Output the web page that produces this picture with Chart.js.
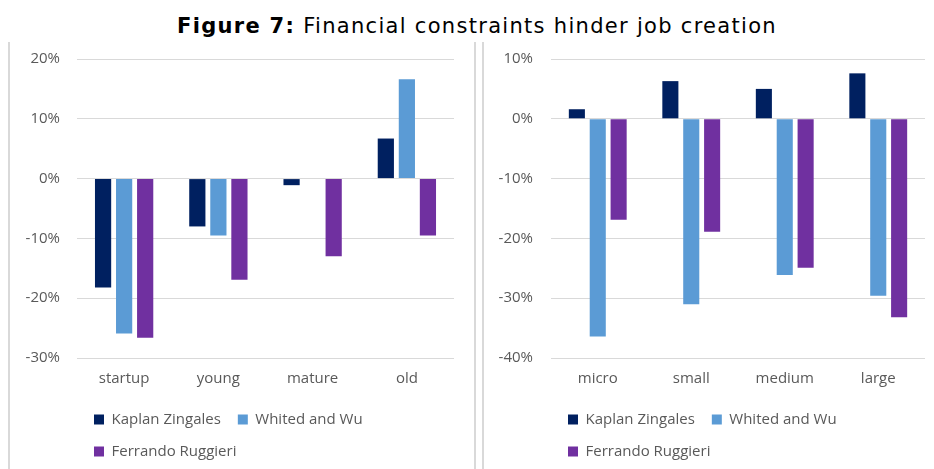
<!DOCTYPE html>
<html>
<head>
<meta charset="utf-8">
<script src="https://cdn.jsdelivr.net/npm/chart.js@4"></script>
<style>
  html,body{margin:0;padding:0;background:#fff;}
  body{width:934px;height:469px;overflow:hidden;position:relative;font-family:"DejaVu Sans",Verdana,sans-serif;}
  #title{position:absolute;left:10px;top:11px;width:934px;text-align:center;font-size:21px;letter-spacing:1.3px;color:#000;line-height:30px;white-space:nowrap;}
  .border{position:absolute;top:42px;width:2px;height:430px;background:#d9d9d9;}
  .panel{position:absolute;top:43px;height:426px;}
</style>
</head>
<body>
<div id="title"><b>Figure 7:</b> Financial constraints hinder job creation</div>
<div class="border" style="left:8px"></div>
<div class="border" style="left:474px"></div>
<div class="border" style="left:482px"></div>
<div class="panel" style="left:10px;width:464px"><canvas id="c1" width="464" height="426"></canvas></div>
<div class="panel" style="left:485px;width:449px"><canvas id="c2" width="449" height="426"></canvas></div>
<script>
const seriesNames = ["Kaplan Zingales", "Whited and Wu", "Ferrando Ruggieri"];
const seriesColors = ["#002060", "#5B9BD5", "#7030A0"];

const ageCategories = ["startup", "young", "mature", "old"];
const ageKZ = [-18.2, -8.0, -1.1, 6.7];
const ageWW = [-25.9, -9.5, null, 16.6];
const ageFR = [-26.6, -16.9, -13.0, -9.5];

const sizeCategories = ["micro", "small", "medium", "large"];
const sizeKZ = [1.6, 6.3, 5.0, 7.6];
const sizeWW = [-36.4, -31.0, -26.1, -29.6];
const sizeFR = [-16.9, -18.9, -24.9, -33.2];

const ageTicks = {min: -30, max: 20, step: 10};
const sizeTicks = {min: -40, max: 10, step: 10};

const FONT = '"Open Sans", "Noto Sans", sans-serif';
const TICK_COLOR = '#595959';
const GRID_COLOR = '#d9d9d9';

function makeChart(id, cats, vals, ticks, yWidth, yPad, padRight) {
  const datasets = vals.map((v, i) => ({
    label: seriesNames[i],
    data: v,
    backgroundColor: seriesColors[i],
    borderWidth: 0,
    categoryPercentage: 0.67,
    barPercentage: 0.77
  }));
  return new Chart(document.getElementById(id), {
    type: 'bar',
    data: {labels: cats, datasets},
    options: {
      responsive: false,
      animation: false,
      layout: {padding: {top: 16, right: padRight, left: 0, bottom: 0}},
      plugins: {
        title: {display: false},
        tooltip: {enabled: false},
        legend: {
          position: 'bottom',
          align: 'start',
          fullSize: false,
          labels: {
            boxWidth: 10, boxHeight: 10,
            padding: 17,
            color: TICK_COLOR,
            font: {family: FONT, size: 15}
          }
        }
      },
      scales: {
        x: {
          grid: {display: false, drawTicks: false},
          border: {display: false},
          ticks: {color: TICK_COLOR, font: {family: FONT, size: 15}, padding: 12},
          afterFit: s => { s.height = 37; }
        },
        y: {
          min: ticks.min, max: ticks.max,
          grid: {color: GRID_COLOR, drawTicks: false, lineWidth: 1},
          border: {display: false},
          ticks: {
            stepSize: ticks.step,
            color: TICK_COLOR,
            font: {family: FONT, size: 15},
            padding: yPad,
            callback: v => v + '%'
          },
          afterFit: s => { s.width = yWidth; s.paddingTop = 0; s.paddingBottom = 0; }
        }
      }
    }
  });
}

makeChart('c1', ageCategories, [ageKZ, ageWW, ageFR], ageTicks, 67, 17, 20);
makeChart('c2', sizeCategories, [sizeKZ, sizeWW, sizeFR], sizeTicks, 66, 18, 9);
</script>
</body>
</html>
